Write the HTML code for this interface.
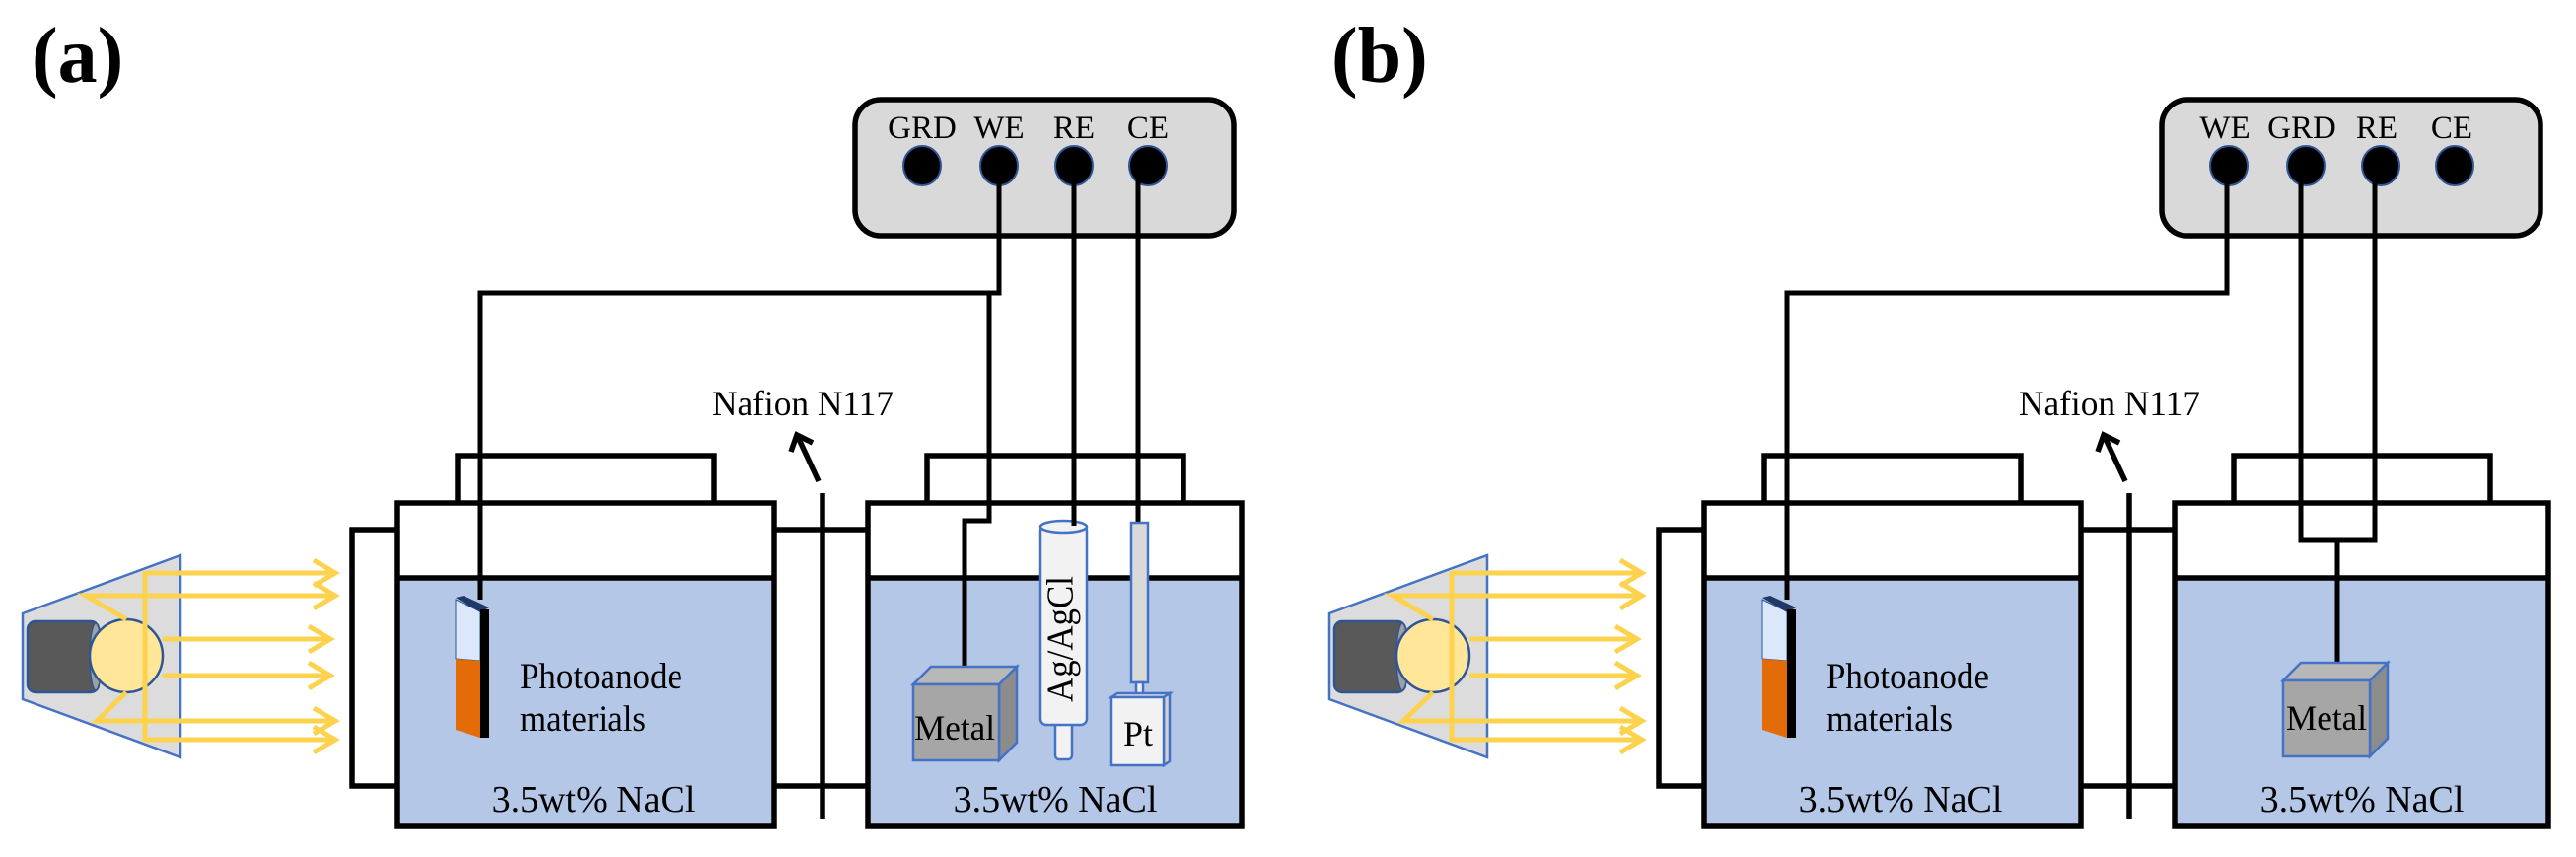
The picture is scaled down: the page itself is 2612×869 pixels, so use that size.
<!DOCTYPE html>
<html><head><meta charset="utf-8"><style>
html,body{margin:0;padding:0;background:#fff;}
svg{display:block;}
</style></head><body>
<svg width="2612" height="869" viewBox="0 0 2612 869" xmlns="http://www.w3.org/2000/svg" font-family="'Liberation Serif', serif">
<defs>
<g id="light">
  <polygon points="23,622 183,563 183,768 23,709" fill="#dcdcdc" stroke="#4472c4" stroke-width="2.5"/>
  <rect x="28" y="630" width="72" height="72" rx="8" fill="#595959" stroke="#2f5597" stroke-width="2.5"/>
  <ellipse cx="97" cy="666" rx="6" ry="34" fill="#a0a0a0" stroke="#2f5597" stroke-width="1.5"/>
  <circle cx="128" cy="665" r="37" fill="#ffe699" stroke="#2f5597" stroke-width="2.5"/>
  <g stroke="#fdd24e" stroke-width="5" fill="none" stroke-linejoin="miter">
    <line x1="147" y1="579" x2="147" y2="752"/>
    <polyline points="128,628 87,604 340,604"/>
    <polyline points="128,702 98,731 340,731"/>
    <line x1="147" y1="581" x2="340" y2="581"/>
    <line x1="165" y1="648" x2="335" y2="648"/>
    <line x1="165" y1="685" x2="335" y2="685"/>
    <line x1="147" y1="750" x2="340" y2="750"/>
    <polyline points="318,568 340,581 318,594"/>
    <polyline points="318,591 340,604 318,617"/>
    <polyline points="313,635 335,648 313,661"/>
    <polyline points="313,672 335,685 313,698"/>
    <polyline points="318,718 340,731 318,744"/>
    <polyline points="318,737 340,750 318,763"/>
  </g>
</g>
<g id="cells">
  <rect x="403" y="586" width="382" height="252" fill="#b4c7e7"/>
  <rect x="880" y="586" width="379" height="252" fill="#b4c7e7"/>
  <g stroke="#000" stroke-width="5.5" fill="none">
    <rect x="403" y="510" width="382" height="328"/>
    <line x1="403" y1="586" x2="785" y2="586"/>
    <rect x="880" y="510" width="379" height="328"/>
    <line x1="880" y1="586" x2="1259" y2="586"/>
    <polyline points="464,510 464,462 724,462 724,510"/>
    <polyline points="940,510 940,462 1200,462 1200,510"/>
    <polyline points="403,537 357,537 357,797 403,797"/>
    <line x1="785" y1="537" x2="880" y2="537"/>
    <line x1="785" y1="797" x2="880" y2="797"/>
    <line x1="834" y1="500" x2="834" y2="830"/>
    <line x1="830" y1="488" x2="809" y2="443"/>
    <polyline points="802,458 808,441 824,449"/>
  </g>
  <rect x="867" y="101" width="384" height="138" rx="26" fill="#d9d9d9" stroke="#000" stroke-width="5.5"/>
  <g fill="#000" stroke="#2f5597" stroke-width="2">
    <ellipse cx="935" cy="168" rx="19" ry="20"/>
    <ellipse cx="1013" cy="168" rx="19" ry="20"/>
    <ellipse cx="1089" cy="168" rx="19" ry="20"/>
    <ellipse cx="1164" cy="168" rx="19" ry="20"/>
  </g>
  <polygon points="462,608 487,620 487,670 462,668" fill="#dbe8fb" stroke="#2f5597" stroke-width="1"/>
  <polygon points="462,668 487,670 487,748 462,740" fill="#e36c09"/>
  <polygon points="462,606 470,604 496,616 487,621" fill="#1f3864"/>
  <rect x="487" y="618" width="9" height="130" fill="#000"/>
  <text x="527" y="698" font-size="37" textLength="165" lengthAdjust="spacingAndGlyphs">Photoanode</text>
  <text x="527" y="741" font-size="37" textLength="128" lengthAdjust="spacingAndGlyphs">materials</text>
  <text x="602" y="823" font-size="38" text-anchor="middle">3.5wt% NaCl</text>
  <text x="1070" y="823" font-size="38" text-anchor="middle">3.5wt% NaCl</text>
  <text x="814" y="421" font-size="36" text-anchor="middle" textLength="184" lengthAdjust="spacingAndGlyphs">Nafion N117</text>
</g>
</defs>

<text x="32" y="83" font-size="80" font-weight="bold">(a)</text>
<text x="1350" y="83" font-size="80" font-weight="bold">(b)</text>

<use href="#light"/>
<use href="#cells"/>
<g font-size="33">
  <text x="935" y="140" text-anchor="middle">GRD</text>
  <text x="1013" y="140" text-anchor="middle">WE</text>
  <text x="1089" y="140" text-anchor="middle">RE</text>
  <text x="1164" y="140" text-anchor="middle">CE</text>
</g>
<g stroke="#000" stroke-width="5" fill="none">
  <polyline points="1013,168 1013,297 487,297 487,608"/>
  <polyline points="1003,297 1003,528 978,528 978,680"/>
  <line x1="1089" y1="168" x2="1089" y2="532"/>
  <line x1="1154" y1="168" x2="1154" y2="531"/>
</g>
<g stroke="#4472c4" stroke-width="2.5">
  <polygon points="926,694 944,676 1031,676 1013,694" fill="#b8b8b8"/>
  <polygon points="1013,694 1031,676 1031,753 1013,771" fill="#8c8c8c"/>
  <rect x="926" y="694" width="87" height="77" fill="#a6a6a6"/>
</g>
<text x="968" y="750" font-size="36" text-anchor="middle" textLength="82" lengthAdjust="spacingAndGlyphs">Metal</text>
<g stroke="#4472c4" stroke-width="2.5" fill="#f2f2f2">
  <rect x="1070" y="732" width="17" height="38" rx="4"/>
  <rect x="1055" y="532" width="47" height="203" rx="6"/>
  <ellipse cx="1078.5" cy="534" rx="23.5" ry="6"/>
</g>
<line x1="1089" y1="520" x2="1089" y2="533" stroke="#000" stroke-width="5"/>
<text transform="translate(1079,648) rotate(-90)" font-size="38" text-anchor="middle" dominant-baseline="middle" textLength="128" lengthAdjust="spacingAndGlyphs">Ag/AgCl</text>
<g stroke="#4472c4" stroke-width="2.5">
  <rect x="1147" y="530" width="17" height="162" fill="#d9d9d9"/>
  <rect x="1152" y="692" width="7" height="15" fill="#f2f2f2"/>
  <polygon points="1127,707 1133,703 1186,703 1180,707" fill="#e0e0e0"/>
  <polygon points="1180,707 1186,703 1186,772 1180,776" fill="#d0d0d0"/>
  <rect x="1127" y="707" width="53" height="69" fill="#f2f2f2"/>
</g>
<text x="1154" y="756" font-size="36" text-anchor="middle">Pt</text>

<g transform="translate(1325,0)">
  <use href="#light"/>
  <use href="#cells"/>
</g>
<g font-size="33">
  <text x="2256" y="140" text-anchor="middle">WE</text>
  <text x="2334" y="140" text-anchor="middle">GRD</text>
  <text x="2410" y="140" text-anchor="middle">RE</text>
  <text x="2486" y="140" text-anchor="middle">CE</text>
</g>
<g stroke="#000" stroke-width="5" fill="none">
  <polyline points="2258,168 2258,297 1812,297 1812,608"/>
  <polyline points="2333,168 2333,548 2408,548 2408,168"/>
  <line x1="2370" y1="548" x2="2370" y2="680"/>
</g>
<g stroke="#4472c4" stroke-width="2.5">
  <polygon points="2315,690 2333,672 2421,672 2403,690" fill="#b8b8b8"/>
  <polygon points="2403,690 2421,672 2421,749 2403,767" fill="#8c8c8c"/>
  <rect x="2315" y="690" width="88" height="77" fill="#a6a6a6"/>
</g>
<text x="2359" y="740" font-size="36" text-anchor="middle" textLength="82" lengthAdjust="spacingAndGlyphs">Metal</text>
</svg>
</body></html>
